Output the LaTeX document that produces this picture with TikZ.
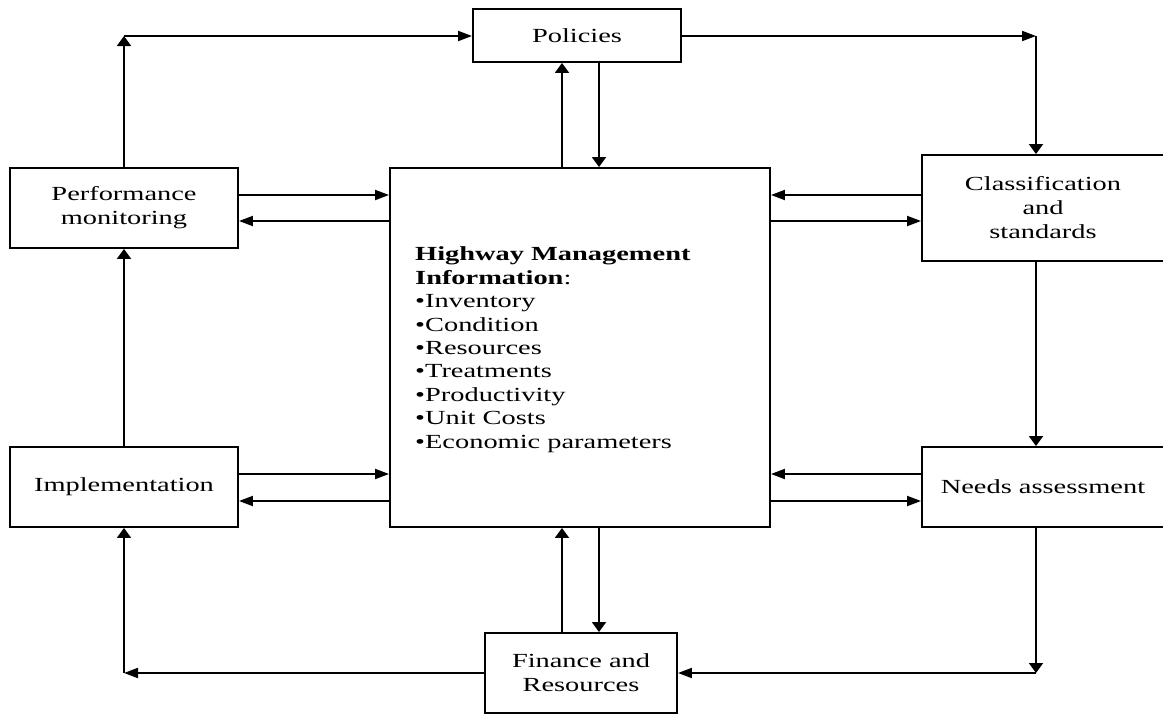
\documentclass[tikz,border=0pt]{standalone}
\usepackage{fontspec}
\setmainfont{Liberation Serif}[FakeStretch=1.42]
\usetikzlibrary{arrows.meta}
\begin{document}
\begin{tikzpicture}[x=1pt,y=-1pt,
  box/.style={draw, line width=1.9pt, inner sep=0pt, align=center, font=\fontsize{20}{24}\selectfont},
  ln/.style={line width=1.9pt},
  ha/.style={ln, -{Triangle[length=14pt,width=10pt]}},
  va/.style={ln, -{Triangle[length=10pt,width=14pt]}},
]
\useasboundingbox (0,0) rectangle (1163,715);
\fill[white] (0,0) rectangle (1163,715);

\node[box, minimum width=208pt, minimum height=53pt] (pol) at (577,35.5) {Policies};
\node[box, minimum width=228pt, minimum height=80pt] (perf) at (124,208) {Performance\\monitoring};
\node[box, minimum width=380pt, minimum height=359pt] (hmi) at (580,347.5) {};
\node[box, minimum width=242pt, minimum height=106pt] (cls) at (1043,208) {Classification\\and\\standards};
\node[box, minimum width=228pt, minimum height=80pt] (impl) at (124,487) {Implementation};
\node[box, minimum width=242pt, minimum height=80pt] (need) at (1043,487) {Needs assessment};
\node[box, minimum width=192pt, minimum height=80pt] (fin) at (581,673) {Finance and\\Resources};

\node[anchor=west, align=left, inner sep=0pt, font=\fontsize{20}{23.4}\selectfont] (hmitext) at (415,349.6)
  {\textbf{Highway Management}\\\textbf{Information}:\\•Inventory\\•Condition\\•Resources\\•Treatments\\•Productivity\\•Unit Costs\\•Economic parameters};

\coordinate (tl) at (124,36);
\coordinate (tr) at (1036,36);
\coordinate (br) at (1036,673);
\coordinate (bl) at (124,673);
\coordinate (xa) at (562,0);
\coordinate (xb) at (599,0);
\coordinate (ya) at (0,195);
\coordinate (yb) at (0,221);
\coordinate (yc) at (0,474);
\coordinate (yd) at (0,501);

% outer loop
\draw[va] (perf.north) -- (tl);
\draw[ha] (tl) -- (pol.west |- tl);
\draw[ha] (pol.east |- tr) -- (tr);
\draw[va] (tr) -- (cls.north -| tr);
\draw[va] (cls.south -| tr) -- (need.north -| tr);
\draw[va] (need.south -| br) -- (br);
\draw[ha] (br) -- (fin.east |- br);
\draw[ha] (fin.west |- bl) -- (bl);
\draw[va] (bl) -- (impl.south -| bl);
\draw[va] (impl.north) -- (perf.south);

% central links
\draw[va] (hmi.north -| xa) -- (pol.south -| xa);
\draw[va] (pol.south -| xb) -- (hmi.north -| xb);
\draw[va] (fin.north -| xa) -- (hmi.south -| xa);
\draw[va] (hmi.south -| xb) -- (fin.north -| xb);

\draw[ha] (perf.east |- ya) -- (hmi.west |- ya);
\draw[ha] (hmi.west |- yb) -- (perf.east |- yb);
\draw[ha] (cls.west |- ya) -- (hmi.east |- ya);
\draw[ha] (hmi.east |- yb) -- (cls.west |- yb);
\draw[ha] (impl.east |- yc) -- (hmi.west |- yc);
\draw[ha] (hmi.west |- yd) -- (impl.east |- yd);
\draw[ha] (need.west |- yc) -- (hmi.east |- yc);
\draw[ha] (hmi.east |- yd) -- (need.west |- yd);
\end{tikzpicture}
\end{document}
